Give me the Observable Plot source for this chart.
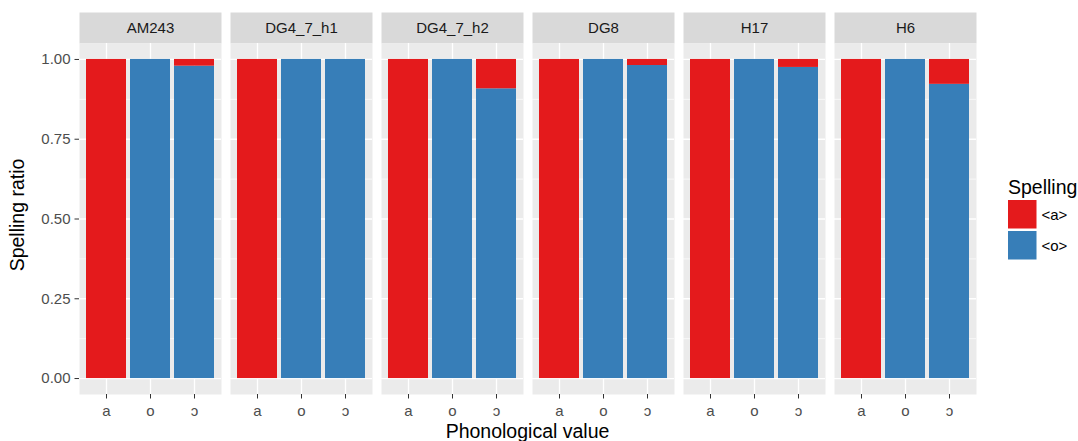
<!DOCTYPE html>
<html><head><meta charset="utf-8">
<script src="https://cdn.jsdelivr.net/npm/d3@7"></script>
<script src="https://cdn.jsdelivr.net/npm/@observablehq/plot@0.6"></script>
<style>
body{margin:0;background:#fff;}
svg{font-family:"Liberation Sans",Arial,Helvetica,sans-serif;}
</style>
</head><body><div id="chart"></div>
<script>
const speakers = ["AM243","DG4_7_h1","DG4_7_h2","DG8","H17","H6"];
const phones = ["a","o","ɔ"];
const spellings = ["<a>","<o>"];
const spellColors = ["#E41A1C","#377EB8"];
// share of <a> spelling for each phonological value, per speaker
const shareA_a = [1,1,1,1,1,1];
const shareA_o = [0,0,0,0,0,0];
const shareA_open = [0.021,0,0.092,0.019,0.025,0.078];
const yMajor = [0,0.25,0.5,0.75,1];
const yMinor = [0.125,0.375,0.625,0.875];

const shares = [shareA_a, shareA_o, shareA_open];
const data = [];
speakers.forEach((s,i)=>phones.forEach((p,j)=>{
  const a = shares[j][i];
  data.push({speaker:s, phone:p, spelling:"<o>", ratio:1-a});
  data.push({speaker:s, phone:p, spelling:"<a>", ratio:a});
}));

const W = 1078, H = 441;
const plot = Plot.plot({
  width:W, height:H,
  marginLeft:78, marginRight:101, marginTop:12, marginBottom:47,
  style:{fontFamily:'"Liberation Sans",Arial,sans-serif', fontSize:"15px", color:"#4d4d4d", background:"#fff"},
  fx:{domain:speakers, paddingInner:0.062, paddingOuter:0, label:null, axis:null},
  x:{domain:phones, paddingInner:0.1, paddingOuter:0.15, label:null},
  y:{domain:[-0.05,1.05], range:[394,43], label:null},
  color:{domain:spellings, range:spellColors},
  marks:[
    Plot.frame({fill:"#d9d9d9", insetBottom:351}),
    Plot.frame({fill:"#ebebeb", insetTop:31}),
    Plot.ruleY(yMinor, {stroke:"#fff", strokeWidth:0.65, strokeOpacity:1}),
    Plot.ruleY(yMajor, {stroke:"#fff", strokeWidth:1.3, strokeOpacity:1}),
    Plot.ruleX(phones, {x:d=>d, stroke:"#fff", strokeWidth:1.3, strokeOpacity:1, insetTop:31}),
    Plot.barY(data, {fx:"speaker", x:"phone", y:"ratio", fill:"spelling", order:["<o>","<a>"]}),
    Plot.text(speakers, {fx:d=>d, text:d=>d, frameAnchor:"top", dy:15.5, lineAnchor:"middle", fill:"#1a1a1a", fontSize:15}),
    Plot.axisY(yMajor, {tickFormat:d3.format(".2f"), tickSize:4.5, tickPadding:4.5, stroke:"#333", fill:"#4d4d4d", label:null}),
    Plot.axisX({tickSize:4.5, tickPadding:6.8, stroke:"#333", fill:"#4d4d4d", label:null})
  ]
});
document.getElementById("chart").appendChild(plot);

const svg = d3.select(plot);
svg.append("text").attr("x",(78+977)/2).attr("y",438).attr("text-anchor","middle")
  .attr("fill","#000").attr("font-size","19.5px").text("Phonological value");
svg.append("text").attr("transform",`translate(24,215) rotate(-90)`).attr("text-anchor","middle")
  .attr("fill","#000").attr("font-size","19.5px").text("Spelling ratio");

const color = plot.scale("color");
const lg = svg.append("g").attr("text-anchor","start");
lg.append("text").attr("x",1008).attr("y",194).attr("fill","#000").attr("font-size","19.5px").text("Spelling");
color.domain.forEach((d,i)=>{
  lg.append("rect").attr("x",1008).attr("y",200+i*31).attr("width",28.5).attr("height",28.5).attr("fill",color.range[i]);
  lg.append("text").attr("x",1041.5).attr("y",200+i*31+14.25).attr("dy","0.35em").attr("fill","#000").attr("font-size","15px").text(d);
});
</script>
</body></html>
